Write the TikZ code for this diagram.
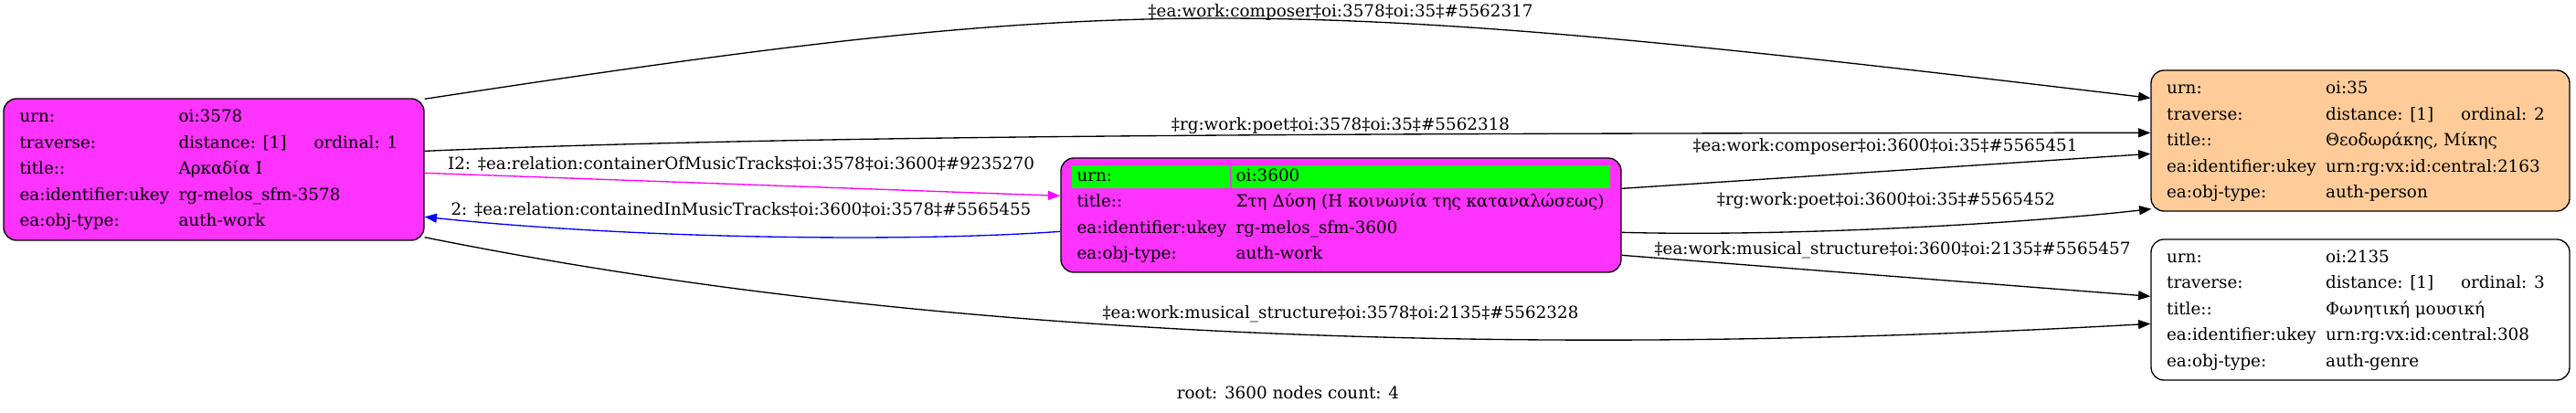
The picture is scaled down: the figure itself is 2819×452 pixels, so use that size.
\documentclass[tikz,border=0pt]{standalone}
\usepackage{fontspec}
\setmainfont{DejaVu Serif}
\usetikzlibrary{arrows.meta,calc}
\definecolor{magfill}{HTML}{FF33FF}
\definecolor{magline}{HTML}{FF00FF}
\definecolor{blueline}{HTML}{0000FF}
\definecolor{peach}{HTML}{FFCC99}
\definecolor{brightgreen}{HTML}{00FF00}
\newcommand{\gfont}{\fontsize{13.75pt}{21.375pt}\selectfont}
\newcommand{\travrow}[2]{\makebox[111pt][l]{#1}#2}
\begin{document}
\begin{tikzpicture}[x=0.75pt,y=-0.75pt,
  recbox/.style={draw=black, line width=1pt, rounded corners=10.5pt, inner sep=0pt},
  tabtext/.style={anchor=base west, inner sep=0pt, font=\gfont, align=left},
  conn/.style={draw=black, line width=1pt, -{Triangle[length=10pt,width=7.5pt]}},
  elabel/.style={anchor=base, inner sep=0pt, font=\gfont}]
\useasboundingbox (0,0) rectangle (2819,452);

% boxes
\node[recbox, fill=magfill, minimum width=345pt, minimum height=116.25pt] (b3578) at (234,185.5) {};
\node[tabtext] (t3578) at ($(b3578.north west)+(18,26.5)$) {%
\begin{tabular}[t]{@{}p{130.5pt}@{}l@{}}
urn: & oi:3578\\
traverse: & \travrow{distance: [1]}{ordinal: 1}\\
title:: & Αρκαδία Ι\\
ea:identifier:ukey & rg-melos\_sfm-3578\\
ea:obj-type: & auth-work
\end{tabular}};

\node[recbox, fill=magfill, minimum width=459.75pt, minimum height=93.75pt] (b3600) at (1467.5,235.5) {};
\fill[brightgreen] ($(b3600.north west)+(13,9)$) rectangle ($(b3600.north west)+(186,34)$);
\fill[brightgreen] ($(b3600.north west)+(188,9)$) rectangle ($(b3600.north west)+(602,34)$);
\node[tabtext] (t3600) at ($(b3600.north west)+(18,26)$) {%
\begin{tabular}[t]{@{}p{130.5pt}@{}l@{}}
urn: & oi:3600\\
title:: & Στη Δύση (Η κοινωνία της καταναλώσεως)\\
ea:identifier:ukey & rg-melos\_sfm-3600\\
ea:obj-type: & auth-work
\end{tabular}};

\node[recbox, fill=peach, minimum width=343.5pt, minimum height=115.5pt] (b35) at (2583,154) {};
\node[tabtext] (t35) at ($(b35.north west)+(17.5,26.5)$) {%
\begin{tabular}[t]{@{}p{130.5pt}@{}l@{}}
urn: & oi:35\\
traverse: & \travrow{distance: [1]}{ordinal: 2}\\
title:: & Θεοδωράκης, Μίκης\\
ea:identifier:ukey & urn:rg:vx:id:central:2163\\
ea:obj-type: & auth-person
\end{tabular}};

\node[recbox, fill=white, minimum width=343.5pt, minimum height=115.5pt] (b2135) at (2583,339) {};
\node[tabtext] (t2135) at ($(b2135.north west)+(17.5,26)$) {%
\begin{tabular}[t]{@{}p{130.5pt}@{}l@{}}
urn: & oi:2135\\
traverse: & \travrow{distance: [1]}{ordinal: 3}\\
title:: & Φωνητική μουσική\\
ea:identifier:ukey & urn:rg:vx:id:central:308\\
ea:obj-type: & auth-genre
\end{tabular}};

% connectors
\draw[conn] ($(b3578.north east)+(0,1)$) .. controls (1234,-9) and (1381,-9) .. ($(b35.north west)+(0,31)$);
\draw[conn] ($(b3578.north east)+(0,58)$) .. controls (900,147) and (1500,146) .. ($(b35.north west)+(0,69)$);
\draw[conn, color=magline] ($(b3578.north east)+(0,82)$) -- ($(b3600.north west)+(0,42)$);
\draw[conn, color=blueline] ($(b3600.north west)+(0,81)$) .. controls (1000,265) and (700,262) .. ($(b3578.north east)+(0,130)$);
\draw[conn] ($(b3578.south east)+(0,-4)$) .. controls (1100,388) and (1800,385) .. ($(b2135.north west)+(0,93)$);
\draw[conn] ($(b3600.north east)+(0,34)$) -- ($(b35.north west)+(0,92)$);
\draw[conn] ($(b3600.north east)+(0,82)$) .. controls (1950,259) and (2200,246) .. ($(b35.south west)+(1,-3)$);
\draw[conn] ($(b3600.north east)+(0,107)$) -- ($(b2135.north west)+(0,63)$);

% labels
\node[elabel] (l1) at (1467,19) {‡ea:work:composer‡oi:3578‡oi:35‡\#5562317};
\node[elabel] (l2) at (1467,143) {‡rg:work:poet‡oi:3578‡oi:35‡\#5562318};
\node[elabel] (l3) at (811,186) {I2: ‡ea:relation:containerOfMusicTracks‡oi:3578‡oi:3600‡\#9235270};
\node[elabel] (l4) at (811,236) {2: ‡ea:relation:containedInMusicTracks‡oi:3600‡oi:3578‡\#5565455};
\node[elabel] (l5) at (2063,166) {‡ea:work:composer‡oi:3600‡oi:35‡\#5565451};
\node[elabel] (l6) at (2064,225) {‡rg:work:poet‡oi:3600‡oi:35‡\#5565452};
\node[elabel] (l7) at (2071,278) {‡ea:work:musical\_structure‡oi:3600‡oi:2135‡\#5565457};
\node[elabel] (l8) at (1467,348) {‡ea:work:musical\_structure‡oi:3578‡oi:2135‡\#5562328};
\node[elabel] (root) at (1409.5,436) {root: 3600 nodes count: 4};
\end{tikzpicture}
\end{document}
